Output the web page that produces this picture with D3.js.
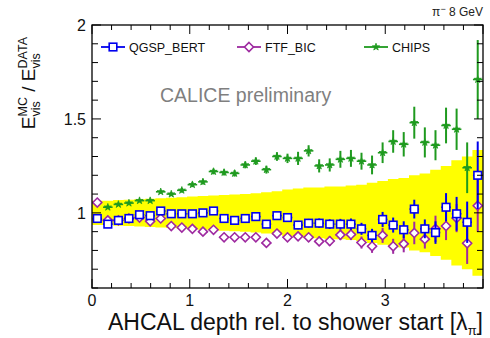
<!DOCTYPE html>
<html><head><meta charset="utf-8">
<script src="https://cdn.jsdelivr.net/npm/d3@7"></script>
<style>
body{margin:0;background:#fff}
svg{display:block}
text{font-family:"Liberation Sans",Arial,Helvetica,sans-serif;white-space:pre}
</style>
</head><body>
<svg id="chart" width="490" height="338"></svg>
<script>
// ---- data ----
const depth = [0.054,0.162,0.270,0.378,0.486,0.595,0.703,0.811,0.919,1.027,1.135,1.243,1.351,1.459,1.568,1.676,1.784,1.892,2.000,2.108,2.216,2.324,2.432,2.541,2.649,2.757,2.865,2.973,3.081,3.189,3.297,3.405,3.514,3.622,3.730,3.838,3.946];
const binHalfWidth = 0.054;
const qgspBert    = [0.97,0.94,0.96,0.97,0.99,0.985,1.01,0.995,0.995,0.995,1.0,1.01,0.97,0.96,0.97,0.98,0.94,0.985,0.975,0.935,0.945,0.945,0.94,0.94,0.94,0.915,0.88,0.965,0.935,0.91,1.02,0.915,0.895,1.03,0.995,0.95,1.2];
const qgspBertErr = [0.01,0.01,0.01,0.01,0.01,0.012,0.012,0.012,0.013,0.013,0.014,0.015,0.015,0.016,0.017,0.018,0.019,0.02,0.02,0.022,0.023,0.025,0.026,0.028,0.03,0.032,0.035,0.04,0.04,0.045,0.05,0.05,0.06,0.075,0.09,0.11,0.18];
const ftfBic      = [1.055,0.96,0.96,0.97,0.975,0.955,0.97,0.93,0.922,0.915,0.9,0.91,0.87,0.87,0.87,0.87,0.84,0.89,0.87,0.875,0.87,0.848,0.85,0.883,0.885,0.842,0.822,0.88,0.822,0.835,0.893,0.86,0.915,0.93,0.972,0.838,1.038];
const ftfBicErr   = [0.01,0.01,0.01,0.01,0.01,0.012,0.012,0.012,0.013,0.013,0.014,0.015,0.015,0.016,0.017,0.018,0.019,0.02,0.02,0.022,0.023,0.025,0.026,0.028,0.03,0.032,0.035,0.04,0.04,0.045,0.06,0.05,0.07,0.075,0.075,0.11,0.14];
const chips       = [0.965,1.03,1.045,1.052,1.065,1.065,1.112,1.10,1.12,1.15,1.165,1.22,1.215,1.21,1.255,1.275,1.23,1.30,1.29,1.29,1.33,1.25,1.255,1.285,1.29,1.275,1.255,1.32,1.38,1.365,1.48,1.375,1.36,1.465,1.445,1.24,1.71];
const chipsErr    = [0.008,0.008,0.008,0.009,0.009,0.01,0.01,0.011,0.012,0.013,0.014,0.015,0.016,0.017,0.018,0.02,0.021,0.023,0.025,0.035,0.03,0.035,0.035,0.045,0.045,0.045,0.05,0.055,0.06,0.065,0.085,0.08,0.08,0.095,0.11,0.135,0.21];
const dataBandErr = [0.065,0.065,0.068,0.07,0.072,0.075,0.078,0.08,0.083,0.087,0.09,0.092,0.095,0.098,0.1,0.105,0.11,0.115,0.125,0.13,0.135,0.135,0.14,0.14,0.145,0.15,0.16,0.17,0.18,0.185,0.2,0.21,0.23,0.25,0.28,0.3,0.335];
const xTickLabels = [0,1,2,3];
const yTickLabels = [1,1.5,2];
const seriesNames = ["QGSP_BERT","FTF_BIC","CHIPS"];

// ---- layout ----
const L = 92, R = 483, T = 25, B = 288;
const svg = d3.select("#chart");
const x = d3.scaleLinear().domain([0,4]).range([L,R]);
const y = d3.scaleLinear().domain([0.6,2]).range([B,T]);

const defs = svg.append("defs");
defs.append("clipPath").attr("id","plot").append("rect")
  .attr("x",L).attr("y",T).attr("width",R-L).attr("height",B-T);
const plot = svg.append("g").attr("clip-path","url(#plot)");

// data uncertainty band (stepped)
const bandPts = [];
depth.forEach((d,i)=>{
  bandPts.push({x:d-binHalfWidth,e:dataBandErr[i]});
  bandPts.push({x:d+binHalfWidth,e:dataBandErr[i]});
});
plot.append("path").datum(bandPts)
  .attr("fill","#ffff00")
  .attr("d", d3.area().x(p=>x(p.x)).y0(p=>y(1-p.e)).y1(p=>y(1+p.e)));

const colors = {qgsp:"#0000ee", ftf:"#9e2aa0", chips:"#1f9a1f"};

function drawSeries(vals, errs, color, kind){
  const g = plot.append("g");
  const pts = depth.map((d,i)=>({x:d,v:vals[i],e:errs[i]}));
  g.selectAll("line.v").data(pts).join("line")
    .attr("x1",p=>x(p.x)).attr("x2",p=>x(p.x))
    .attr("y1",p=>y(p.v+p.e)).attr("y2",p=>y(p.v-p.e))
    .attr("stroke",color).attr("stroke-width",2);
  g.selectAll("line.h").data(pts).join("line")
    .attr("x1",p=>x(p.x-binHalfWidth)+0.5).attr("x2",p=>x(p.x+binHalfWidth)-0.5)
    .attr("y1",p=>y(p.v)).attr("y2",p=>y(p.v))
    .attr("stroke",color).attr("stroke-width",1.6);
  drawMarkers(g, pts.map(p=>[x(p.x),y(p.v)]), color, kind);
}
function drawMarkers(g, xy, color, kind){
  if(kind==="square"){
    g.selectAll("rect.m").data(xy).join("rect")
      .attr("x",p=>p[0]-3.8).attr("y",p=>p[1]-3.8).attr("width",7.6).attr("height",7.6)
      .attr("fill","#fff").attr("stroke",color).attr("stroke-width",1.6);
  } else if(kind==="diamond"){
    g.selectAll("path.m").data(xy).join("path")
      .attr("transform",p=>`translate(${p[0]},${p[1]})`)
      .attr("d","M0,-4.5L4.5,0L0,4.5L-4.5,0Z")
      .attr("fill","#fff").attr("stroke",color).attr("stroke-width",1.6);
  } else {
    g.selectAll("path.m").data(xy).join("path")
      .attr("transform",p=>`translate(${p[0]},${p[1]})`)
      .attr("d",d3.symbol(d3.symbolStar,16))
      .attr("fill",color).attr("stroke",color).attr("stroke-width",0.8);
  }
}
drawSeries(chips, chipsErr, colors.chips, "star");
drawSeries(ftfBic, ftfBicErr, colors.ftf, "diamond");
drawSeries(qgspBert, qgspBertErr, colors.qgsp, "square");

// ---- axes (ticks inward on all four sides) ----
const xMinor = d3.range(0,4.001,0.2).filter(v=>Math.abs(v-Math.round(v))>1e-6);
const xMajor = [0,1,2,3,4];
const yMinor = d3.range(0.6,2.001,0.1).filter(v=>Math.abs(v*2-Math.round(v*2))>1e-6);
const yMajor = [1,1.5,2];
const ax = svg.append("g").attr("stroke","#000").attr("stroke-width",1);
function tick(x1,y1,x2,y2){ax.append("line").attr("x1",x1).attr("y1",y1).attr("x2",x2).attr("y2",y2);}
xMajor.forEach(v=>{tick(x(v),B,x(v),B-9); tick(x(v),T,x(v),T+9);});
xMinor.forEach(v=>{tick(x(v),B,x(v),B-5); tick(x(v),T,x(v),T+5);});
yMajor.forEach(v=>{tick(L,y(v),L+9,y(v)); tick(R,y(v),R-9,y(v));});
yMinor.forEach(v=>{tick(L,y(v),L+6,y(v)); tick(R,y(v),R-6,y(v));});
svg.append("rect").attr("x",L).attr("y",T).attr("width",R-L).attr("height",B-T)
  .attr("fill","none").attr("stroke","#000").attr("stroke-width",1.3);

svg.append("g").selectAll("text").data(xTickLabels).join("text")
  .attr("x",d=>x(d)).attr("y",306).attr("text-anchor","middle")
  .attr("font-size",16).attr("fill","#111").text(d=>d);
svg.append("g").selectAll("text").data(yTickLabels).join("text")
  .attr("x",L-6).attr("y",d=>y(d)+6).attr("text-anchor","end")
  .attr("font-size",16).attr("fill","#111").text(d=>d);

// rich text helper
function rich(g, parts, baseSize){
  let cx = 0;
  parts.forEach(p=>{
    if(p.sup!==undefined){
      const a = g.append("text").attr("x",cx).attr("y",-baseSize*0.42).attr("font-size",p.size).text(p.sup);
      const b = g.append("text").attr("x",cx).attr("y",baseSize*0.27).attr("font-size",p.size).text(p.sub);
      cx += Math.max(a.node().getComputedTextLength(), b.node().getComputedTextLength());
    } else {
      const t = g.append("text").attr("x",cx).attr("y",p.dy||0).attr("font-size",p.size||baseSize).text(p.t);
      cx += t.node().getComputedTextLength();
    }
  });
  return cx;
}

// x axis title (right aligned at axis end)
{
  const g = svg.append("g").attr("fill","#111");
  const w = rich(g,[{t:"AHCAL depth rel. to shower start [λ"},{t:"π",size:13,dy:5},{t:"]"}],23);
  g.attr("transform",`translate(${R-w},330)`);
}
// y axis title (rotated, right aligned near top)
{
  const g = svg.append("g").attr("fill","#111");
  const inner = g.append("g");
  const w = rich(inner,[{t:"E"},{sup:"MC",sub:"vis",size:12.5},{t:"\u00a0/\u00a0"},{t:"E"},{sup:"DATA",sub:"vis",size:12.5}],19);
  g.attr("transform",`translate(35,${T+12}) rotate(-90) translate(${-w},0)`);
}
// energy label
{
  const g = svg.append("g").attr("fill","#222");
  const w = rich(g,[{t:"π",size:12},{t:"−",size:9,dy:-4},{t:"\u00a08\u00a0GeV",size:12}],12);
  g.attr("transform",`translate(${R-w},16)`);
}
// CALICE preliminary
svg.append("text").attr("x",160).attr("y",102).attr("font-size",19.5)
  .attr("fill","#7f7f7f").text("CALICE preliminary");

// legend
const legend = [
  {name:seriesNames[0],color:colors.qgsp,kind:"square",x0:101},
  {name:seriesNames[1],color:colors.ftf,kind:"diamond",x0:237},
  {name:seriesNames[2],color:colors.chips,kind:"star",x0:364}
];
const ly = 47;
legend.forEach(l=>{
  const g = svg.append("g");
  g.append("line").attr("x1",l.x0).attr("x2",l.x0+24).attr("y1",ly).attr("y2",ly)
    .attr("stroke",l.color).attr("stroke-width",1.8);
  drawMarkers(g,[[l.x0+12,ly]],l.color,l.kind);
  g.append("text").attr("x",l.x0+28).attr("y",ly+4.5).attr("font-size",12.5)
    .attr("fill","#111").text(l.name);
});
</script>
</body></html>
